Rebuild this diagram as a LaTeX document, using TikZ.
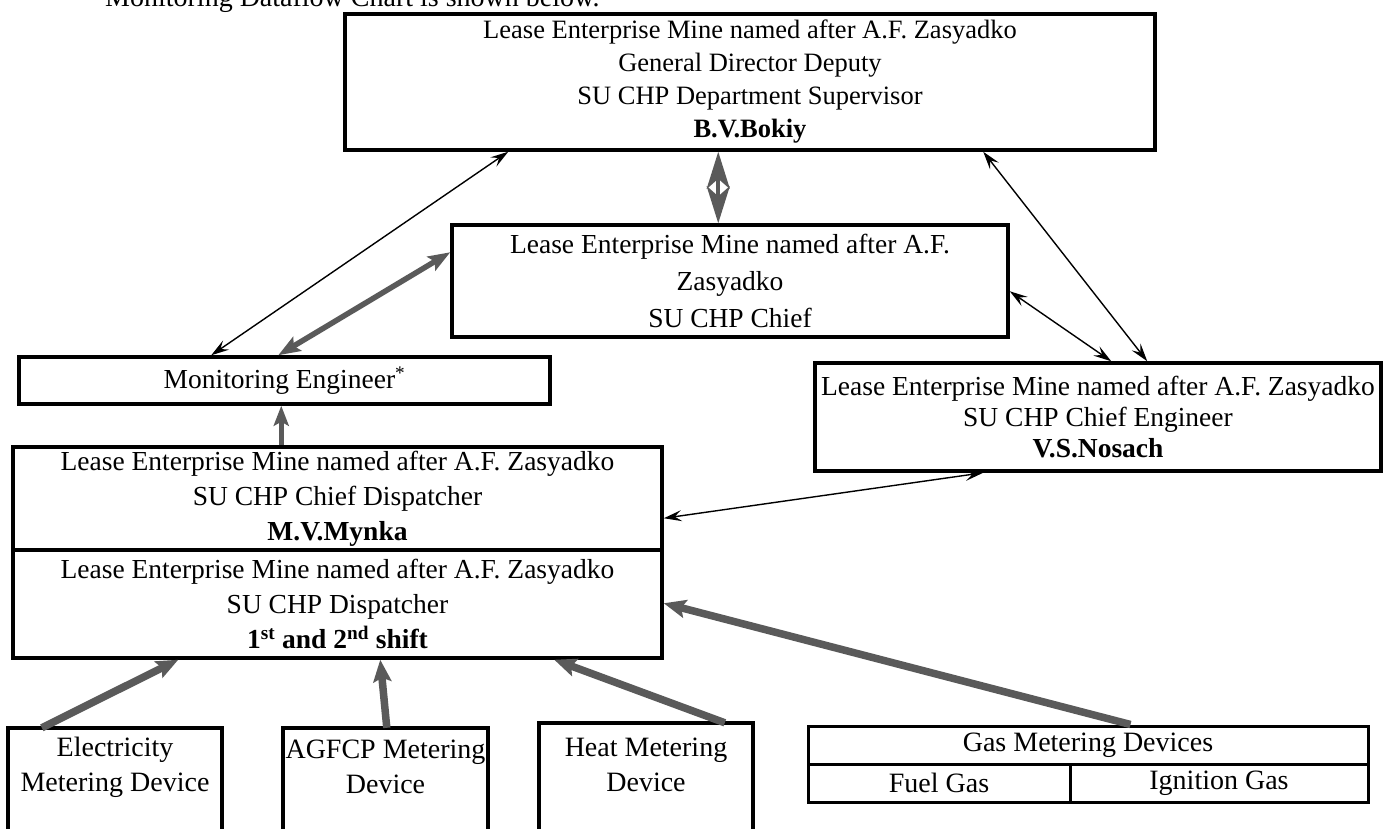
\documentclass[tikz,border=0pt]{standalone}
\usepackage{fontspec}
\setmainfont{Liberation Serif}
\usetikzlibrary{arrows.meta,calc}
\definecolor{garrow}{HTML}{5A5A5A}
\begin{document}
\begin{tikzpicture}[x=1pt,y=-1pt,
  box/.style={draw=black, line width=3.5pt, inner sep=0pt, align=center, font=\fontsize{27.5}{34}\selectfont},
  openbox/.style={draw=none, inner sep=0pt},
  txt/.style={inner sep=0pt, align=center, font=\fontsize{28}{35}\selectfont},
  blk/.style={draw=black, line width=1.4pt, arrows={Stealth[length=18pt,width=11pt,inset=7pt]-Stealth[length=18pt,width=11pt,inset=7pt]}},
  gryone/.style={draw=garrow, line width=7.5pt, arrows={-Stealth[length=22pt,width=18pt,inset=4pt]}},
  grytwo/.style={draw=garrow, line width=5.5pt, arrows={Stealth[length=22pt,width=16pt,inset=4pt]-Stealth[length=22pt,width=16pt,inset=4pt]}},
  gryup/.style={draw=garrow, line width=5pt, arrows={-Stealth[length=20pt,width=15pt,inset=4pt]}},
  grydbl/.style={draw=garrow, line width=4pt, arrows={Stealth[length=37pt,width=23pt,inset=10pt]-Stealth[length=37pt,width=23pt,inset=10pt]}}
]
\useasboundingbox[fill=white] (0,0) rectangle (1388,829);

% title (cut off at the top, as in the source page)
\node[anchor=base west, inner sep=0pt, font=\fontsize{28}{34}\selectfont] (title) at (105,7) {Monitoring Dataflow Chart is shown below.};

% boxes
\node[box, minimum width=810pt, minimum height=136pt, font=\fontsize{26.5}{33}\selectfont] (dir) at (750,82)
  {Lease Enterprise Mine named after A.F. Zasyadko\\General Director Deputy\\SU CHP Department Supervisor\\\textbf{B.V.Bokiy}};
\node[box, minimum width=556pt, minimum height=112pt, font=\fontsize{27.5}{37}\selectfont] (chief) at (730,281)
  {Lease Enterprise Mine named after A.F.\\Zasyadko\\SU CHP Chief};
\node[box, minimum width=531pt, minimum height=47pt] (mon) at (284.5,380.5)
  {Monitoring Engineer\textsuperscript{*}};
\node[box, minimum width=566pt, minimum height=108pt, font=\fontsize{27.5}{31}\selectfont] (nos) at (1098,417)
  {Lease Enterprise Mine named after A.F. Zasyadko\\SU CHP Chief Engineer\\\textbf{V.S.Nosach}};
\node[box, minimum width=649pt, minimum height=103pt, font=\fontsize{27.5}{35}\selectfont] (cd) at (337.5,498.5)
  {Lease Enterprise Mine named after A.F. Zasyadko\\SU CHP Chief Dispatcher\\\textbf{M.V.Mynka}};
\node[box, minimum width=649pt, minimum height=108pt, font=\fontsize{27.5}{35}\selectfont] (disp) at (337.5,604)
  {Lease Enterprise Mine named after A.F. Zasyadko\\SU CHP Dispatcher\\\textbf{1\textsuperscript{st} and 2\textsuperscript{nd} shift}};

% bottom boxes, open at the lower edge of the picture
\node[openbox, minimum width=214pt, minimum height=120pt] (elec) at (115,788) {};
\draw[line width=3.5pt] (elec.south west) -- (elec.north west) -- (elec.north east) -- (elec.south east);
\node[txt] (elect) at (115,767) {Electricity\\Metering Device};

\node[openbox, minimum width=205pt, minimum height=120pt] (agf) at (385.5,788) {};
\draw[line width=3.5pt] (agf.south west) -- (agf.north west) -- (agf.north east) -- (agf.south east);
\node[txt] (agft) at (385.5,767) {AGFCP Metering\\Device};

\node[openbox, minimum width=214pt, minimum height=126pt] (heat) at (646,786) {};
\draw[line width=3.5pt] (heat.south west) -- (heat.north west) -- (heat.north east) -- (heat.south east);
\node[txt] (heatt) at (646,765) {Heat Metering\\Device};

\node[box, line width=3pt, minimum width=560pt, minimum height=38pt, font=\fontsize{28}{34}\selectfont] (gasT) at (1088,745) {Gas Metering Devices};
\node[box, line width=3pt, minimum width=262pt, minimum height=38pt, font=\fontsize{28}{34}\selectfont] (fuel) at (939,783) {Fuel Gas};
\node[box, line width=3pt, minimum width=298pt, minimum height=38pt, font=\fontsize{28}{34}\selectfont] (ign) at (1219,783) {Ignition Gas};

% connectors
\draw[blk] ([xshift=165pt]dir.south west) -- ([xshift=194pt]mon.north west);
\draw[grytwo] ([xshift=261pt]mon.north west) -- ([yshift=-29pt]chief.north west);
\draw[grydbl] ([xshift=375pt]dir.south west) -- ([xshift=268pt]chief.north west);
\draw[blk] ([xshift=640pt]dir.south west) -- ([xshift=334pt]nos.north west);
\draw[blk] ([yshift=-68pt]chief.north east) -- ([xshift=298pt]nos.north west);
\draw[blk] ([yshift=-73pt]cd.north east) -- ([xshift=170pt]nos.south west);
\draw[gryup] ([xshift=270pt]cd.north west) -- ([xshift=264pt]mon.south west);

\draw[gryone] ([xshift=34pt]elec.north west) -- ([xshift=167pt]disp.south west);
\draw[gryone] ([xshift=104pt]agf.north west) -- ([xshift=369pt]disp.south west);
\draw[gryone] ([xshift=186pt]heat.north west) -- ([xshift=543pt]disp.south west);
\draw[gryone] ([xshift=324pt]gasT.north west) -- ([yshift=-55pt]disp.north east);
\end{tikzpicture}
\end{document}
